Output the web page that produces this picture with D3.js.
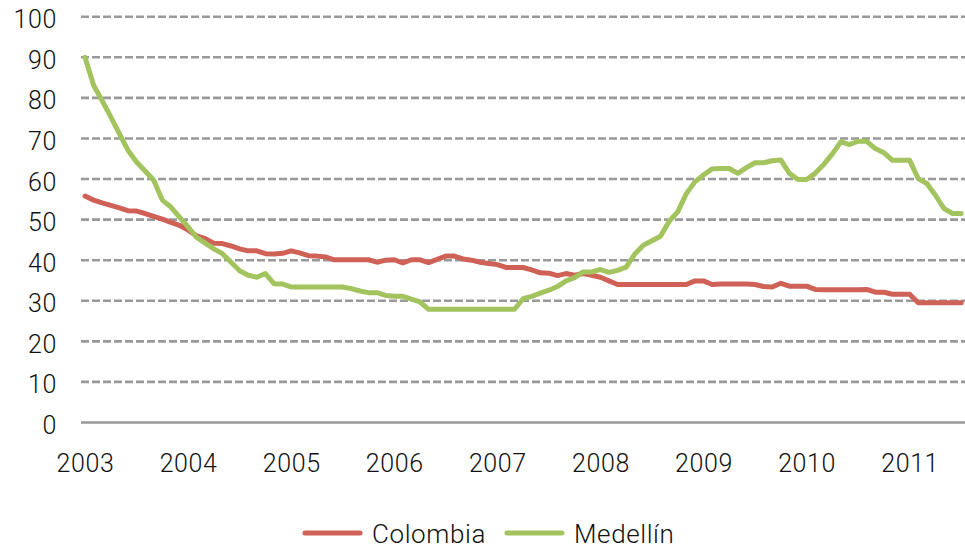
<!DOCTYPE html>
<html>
<head>
<meta charset="utf-8">
<script src="https://cdn.jsdelivr.net/npm/d3@7/dist/d3.min.js"></script>
<style>
  html, body { margin: 0; padding: 0; background: #fff; }
  svg { display: block; }
  text { font-family: "Helvetica Neue", Roboto, "Liberation Sans", sans-serif; font-weight: 300; fill: #111; letter-spacing: 0.6px; }
</style>
</head>
<body>
<svg id="chart" width="965" height="548"></svg>
<script>
// Monthly series, January 2003 to July 2011
const years = ["2003", "2004", "2005", "2006", "2007", "2008", "2009", "2010", "2011"];
const yTicks = [0, 10, 20, 30, 40, 50, 60, 70, 80, 90, 100];
const seriesNames = ["Colombia", "Medellín"];
const seriesColors = ["#cf6157", "#a2c35e"];

const colombia = [
  55.8, 54.8, 54.1, 53.5, 52.9, 52.2, 52.1, 51.5, 50.8, 50.1, 49.3, 48.6,
  47.4, 46.0, 45.3, 44.2, 44.1, 43.5, 42.8, 42.3, 42.3, 41.6, 41.5, 41.7,
  42.3, 41.8, 41.1, 41.0, 40.8, 40.1, 40.1, 40.1, 40.1, 40.1, 39.5, 40.0,
  40.1, 39.3, 40.1, 40.1, 39.4, 40.2, 41.0, 41.0, 40.3, 40.0, 39.5, 39.2,
  38.9, 38.2, 38.2, 38.2, 37.6, 36.9, 36.8, 36.2, 36.7, 36.3, 36.7, 36.3,
  35.8, 34.9, 34.0, 34.0, 34.0, 34.0, 34.0, 34.0, 34.0, 34.0, 34.0, 34.9,
  34.9, 34.0, 34.1, 34.1, 34.1, 34.1, 34.0, 33.5, 33.4, 34.3, 33.6, 33.6,
  33.6, 32.8, 32.7, 32.7, 32.7, 32.7, 32.7, 32.8, 32.1, 32.1, 31.6, 31.6,
  31.6, 29.5, 29.5, 29.5, 29.5, 29.5, 29.5
];

const medellin = [
  90.0, 83.1, 79.3, 75.3, 71.2, 67.1, 64.2, 62.0, 59.7, 54.8, 53.1, 50.6,
  48.2, 45.6, 44.2, 42.8, 41.6, 39.5, 37.4, 36.3, 35.8, 36.7, 34.2, 34.1,
  33.4, 33.4, 33.4, 33.4, 33.4, 33.4, 33.4, 33.0, 32.4, 32.0, 32.0, 31.3,
  31.1, 31.1, 30.4, 29.7, 27.9, 27.9, 27.9, 27.9, 27.9, 27.9, 27.9, 27.9,
  27.9, 27.9, 27.9, 30.5, 31.1, 31.9, 32.6, 33.5, 34.9, 35.7, 37.1, 37.1,
  37.7, 37.0, 37.5, 38.3, 41.5, 43.7, 44.8, 45.9, 49.6, 51.9, 56.4, 59.3,
  61.0, 62.5, 62.6, 62.6, 61.4, 62.8, 64.0, 64.0, 64.5, 64.7, 61.4, 59.9,
  59.9, 61.4, 63.6, 66.2, 69.2, 68.5, 69.3, 69.3, 67.5, 66.5, 64.6, 64.6,
  64.6, 60.1, 58.9, 56.0, 52.7, 51.5, 51.5
];

const svg = d3.select("#chart");
const nMonths = colombia.length;

const x = d3.scaleLinear().domain([0, nMonths - 1]).range([85, 961.2]);
const y = d3.scaleLinear().domain([0, 100]).range([422.5, 16.7]);
const gridLeft = 81, gridRight = 965;

// Dashed horizontal gridlines
svg.append("g")
  .selectAll("line")
  .data(yTicks.filter(d => d > 0))
  .join("line")
  .attr("x1", gridLeft).attr("x2", gridRight)
  .attr("y1", d => y(d)).attr("y2", d => y(d))
  .attr("stroke", "#999")
  .attr("stroke-width", 2.6)
  .attr("stroke-dasharray", "8,3");

// Solid baseline at zero
svg.append("line")
  .attr("x1", gridLeft).attr("x2", gridRight)
  .attr("y1", y(0)).attr("y2", y(0))
  .attr("stroke", "#999")
  .attr("stroke-width", 2.6);

// Y axis labels
const yAxis = d3.axisLeft(y).tickValues(yTicks).tickSize(0).tickPadding(0);
const yg = svg.append("g").attr("transform", "translate(57,0)").call(yAxis);
yg.select(".domain").remove();
yg.selectAll("text")
  .attr("font-size", 25)
  .attr("dy", "0.44em")
  .style("font-family", null);

// X axis labels, one per January
const xAxis = d3.axisBottom(x)
  .tickValues(years.map((_, i) => i * 12))
  .tickFormat((d, i) => years[i])
  .tickSize(0).tickPadding(0);
const xg = svg.append("g").attr("transform", "translate(0,472)").call(xAxis);
xg.select(".domain").remove();
xg.selectAll("text")
  .attr("font-size", 25)
  .attr("dy", 0)
  .style("font-family", null);
svg.selectAll(".tick text").attr("fill", "#111");

// Series lines
const line = d3.line().x((d, i) => x(i)).y(d => y(d));
[colombia, medellin].forEach((vals, k) => {
  svg.append("path")
    .datum(vals)
    .attr("d", line)
    .attr("fill", "none")
    .attr("stroke", seriesColors[k])
    .attr("stroke-width", 5)
    .attr("stroke-linejoin", "round")
    .attr("stroke-linecap", "round");
});

// Legend
const legendItems = [
  { name: seriesNames[0], color: seriesColors[0], x0: 305 },
  { name: seriesNames[1], color: seriesColors[1], x0: 507 }
];
const lg = svg.append("g");
legendItems.forEach(it => {
  lg.append("line")
    .attr("x1", it.x0).attr("x2", it.x0 + 55)
    .attr("y1", 533).attr("y2", 533)
    .attr("stroke", it.color)
    .attr("stroke-width", 5)
    .attr("stroke-linecap", "round");
  lg.append("text")
    .attr("x", it.x0 + 67).attr("y", 543)
    .attr("font-size", 26)
    .text(it.name);
});
</script>
</body>
</html>
